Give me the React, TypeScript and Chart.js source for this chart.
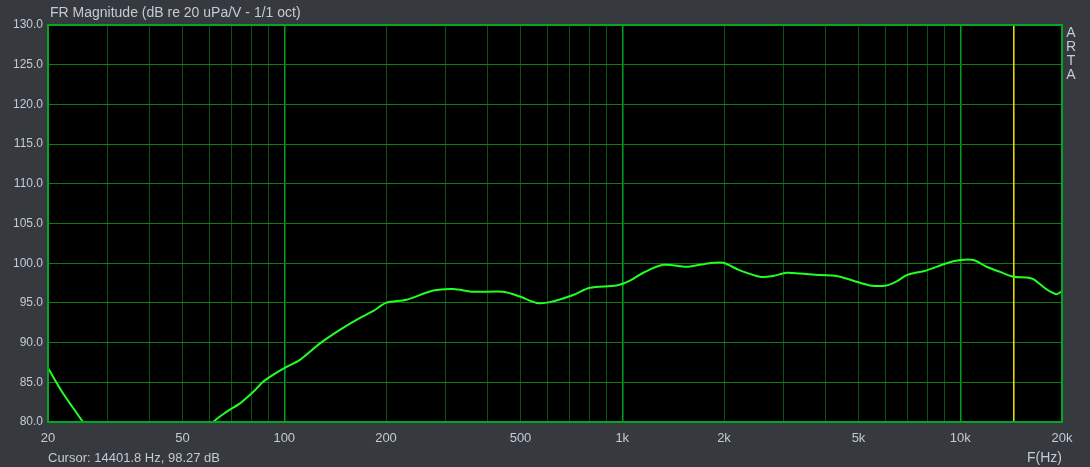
import React, { useEffect, useRef } from "react";
import { Chart, registerables } from "chart.js";

Chart.register(...registerables);

const freqs = [20, 22, 23.8, 25.4, 30, 40, 50, 61.7, 67.6, 74, 81, 86.7, 93.9, 100, 111, 127.6, 146, 164, 183.5, 200, 230, 276, 316, 363, 445, 498, 558, 611, 716, 802, 962, 1054, 1154, 1322, 1551, 1698, 1859, 1991, 2229, 2555, 2799, 3065, 3357, 3846, 4309, 4826, 5408, 6057, 6487, 6944, 7960, 9120, 10000, 10930, 11970, 13110, 14360, 15730, 16450, 18020, 19280, 20000];
const levels = [86.8, 83.8, 81.7, 80.0, 76, 73, 75, 80.0, 81.3, 82.35, 83.8, 85.1, 86.1, 86.8, 87.8, 89.9, 91.6, 92.9, 94.0, 95.0, 95.4, 96.55, 96.75, 96.4, 96.4, 95.8, 95.0, 95.1, 96.0, 96.9, 97.2, 97.8, 98.8, 99.8, 99.55, 99.8, 100.05, 100.05, 99.1, 98.3, 98.4, 98.8, 98.7, 98.5, 98.4, 97.8, 97.2, 97.2, 97.7, 98.5, 99.1, 100.0, 100.4, 100.4, 99.55, 98.9, 98.3, 98.2, 98.0, 96.7, 96.1, 96.5];

const xGridValues = [20, 30, 40, 50, 60, 70, 80, 90, 100, 200, 300, 400, 500, 600, 700, 800, 900, 1000, 2000, 3000, 4000, 5000, 6000, 7000, 8000, 9000, 10000, 20000];
const xLabelValues = [20, 50, 100, 200, 500, 1000, 2000, 5000, 10000, 20000];
const xLabelTexts = ["20", "50", "100", "200", "500", "1k", "2k", "5k", "10k", "20k"];
const majorDecades = [100, 1000, 10000];

const cursorFreq = 14401.8;
const cursorText = "Cursor: 14401.8 Hz, 98.27 dB";
const titleText = "FR Magnitude (dB re 20 uPa/V - 1/1 oct)";
const xAxisTitle = "F(Hz)";
const sideLetters = ["A", "R", "T", "A"];

const TEXT = "#c4cad6";
const FONT = "'Liberation Sans', Arial, sans-serif";

export default function App() {
  const ref = useRef<HTMLCanvasElement | null>(null);

  useEffect(() => {
    if (!ref.current) return;
    const decor = {
      id: "decor",
      beforeDraw(chart: any) {
        const { ctx, chartArea: a } = chart;
        ctx.save();
        ctx.fillStyle = "#36393e";
        ctx.fillRect(0, 0, chart.width, chart.height);
        ctx.fillStyle = "#000000";
        ctx.fillRect(a.left, a.top, a.right - a.left, a.bottom - a.top);
        ctx.restore();
      },
      afterDraw(chart: any) {
        const { ctx, chartArea: a } = chart;
        ctx.save();
        ctx.strokeStyle = "#00a824";
        ctx.lineWidth = 2;
        ctx.strokeRect(a.left, a.top, a.right - a.left, a.bottom - a.top);
        ctx.fillStyle = TEXT;
        ctx.textBaseline = "middle";
        ctx.font = `14px ${FONT}`;
        ctx.textAlign = "left";
        ctx.fillText(titleText, 50, 13);
        ctx.font = `13px ${FONT}`;
        ctx.fillText(cursorText, 48, 458);
        ctx.textAlign = "right";
        ctx.font = `14px ${FONT}`;
        ctx.fillText(xAxisTitle, a.right, 458);
        ctx.textAlign = "center";
        sideLetters.forEach((ch, i) => ctx.fillText(ch, 1071, 33 + i * 14));
        ctx.restore();
      },
    };

    const chart = new Chart(ref.current, {
      type: "line",
      data: {
        datasets: [
          {
            data: freqs.map((f, i) => ({ x: f, y: levels[i] })),
            borderColor: "#22ff22",
            borderWidth: 2,
            pointRadius: 0,
            tension: 0.3,
            order: 0,
          },
          {
            data: [
              { x: cursorFreq, y: 80 },
              { x: cursorFreq, y: 130 },
            ],
            borderColor: "#e8e800",
            borderWidth: 1.5,
            pointRadius: 0,
            order: 1,
          },
        ],
      },
      options: {
        responsive: false,
        animation: false,
        layout: { padding: { top: 25, right: 28, left: 0, bottom: 0 } },
        plugins: { legend: { display: false }, tooltip: { enabled: false }, title: { display: false } },
        scales: {
          x: {
            type: "logarithmic",
            min: 20,
            max: 20000,
            afterBuildTicks: (scale: any) => {
              scale.ticks = xGridValues.map((v) => ({ value: v }));
            },
            afterFit: (scale: any) => {
              scale.height = 45;
            },
            ticks: {
              autoSkip: false,
              maxRotation: 0,
              padding: 9,
              color: TEXT,
              font: { size: 13, family: FONT },
              callback: (v: any) => {
                const i = xLabelValues.indexOf(Number(v));
                return i >= 0 ? xLabelTexts[i] : "";
              },
            },
            grid: {
              drawTicks: false,
              color: (c: any) => (majorDecades.includes(c.tick?.value) ? "#00a020" : "#0a5410"),
              lineWidth: (c: any) => (majorDecades.includes(c.tick?.value) ? 1.5 : 1),
            },
            border: { display: false },
          },
          y: {
            min: 80,
            max: 130,
            afterFit: (scale: any) => {
              scale.width = 48;
            },
            ticks: {
              stepSize: 5,
              padding: 5,
              color: TEXT,
              font: { size: 12, family: FONT },
              callback: (v: any) => Number(v).toFixed(1),
            },
            grid: { drawTicks: false, color: "#157a15" },
            border: { display: false },
          },
        },
      },
      plugins: [decor],
    });
    return () => chart.destroy();
  }, []);

  return (
    <div style={{ position: "fixed", left: 0, top: 0, width: 1090, height: 467, background: "#36393e" }}>
      <canvas ref={ref} width={1090} height={467} />
    </div>
  );
}
